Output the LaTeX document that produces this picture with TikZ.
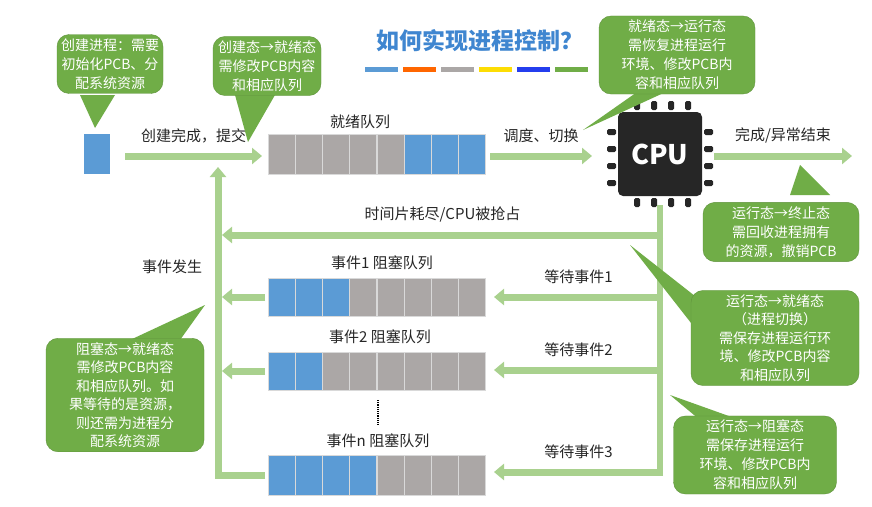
\documentclass[tikz,border=0pt]{standalone}
\usepackage{fontspec}
\setmainfont{Noto Sans CJK SC}
\usetikzlibrary{arrows.meta}
\definecolor{cg}{HTML}{70AD47}
\definecolor{la}{HTML}{A9D18E}
\definecolor{qb}{HTML}{5B9BD5}
\definecolor{qg}{HTML}{ABA7A6}
\definecolor{tb}{HTML}{3F86D0}
\tikzset{
 callout/.style={fill=cg,draw=cg!85!black,rounded corners=12pt,text=white,align=center,font=\fontsize{14}{19}\selectfont,inner sep=4pt},
 flow/.style={draw=la,line width=7pt,-{Triangle[length=10pt,width=16pt]}},
 lbl/.style={font=\fontsize{15}{17}\selectfont,text=black!85},
 cell/.style={draw=white!85!black,minimum width=27pt,minimum height=40pt,inner sep=0pt,line width=0.6pt}
}
\newcommand{\queue}[5]{% name, x, y, nblue, height
 \foreach \i in {1,...,8}{
  \pgfmathsetmacro{\xx}{#2+(\i-0.5)*27.2}
  \ifnum\i>#4 \def\cc{qg}\else\def\cc{qb}\fi
  \node[cell,fill=\cc,minimum height=#5pt] (#1\i) at (\xx,#3) {};}
}
\begin{document}
\begin{tikzpicture}[x=1pt,y=-1pt]
\useasboundingbox (0,0) rectangle (872,506);
\fill[white] (0,0) rectangle (872,506);
% title
\node[text=tb,font=\fontsize{23}{25}\bfseries\selectfont] (title) at (480,41) {如何实现进程控制？};
\foreach \c [count=\k] in {qb,orange!80!red,qg,yellow!80!orange,blue!60!qb,cg}
 \fill[\c] (365+\k*38-38,67) rectangle ++(33,5);
% new process
\node[fill=qb,minimum width=26pt,minimum height=40pt,inner sep=0pt] (newp) at (97,154) {};
% ready queue
\queue{r}{268}{154}{0}{40}
\foreach \i in {6,7,8} \node[cell,fill=qb] at (r\i) {};
\node[lbl] (rl) at (360,122) {就绪队列};
% CPU
\node[fill=black!85,rounded corners=5pt,minimum width=84pt,minimum height=84pt,text=white,font=\fontsize{27}{29}\bfseries\selectfont] (cpu) at (660,154) {CPU};
\foreach \k in {0,1,2,3}{
 \fill[black!85,rounded corners=1.5pt] (634+\k*17,101) rectangle ++(6,9);
 \fill[black!85,rounded corners=1.5pt] (634+\k*17,198) rectangle ++(6,9);
 \fill[black!85,rounded corners=1.5pt] (607,129+\k*17) rectangle ++(9,6);
 \fill[black!85,rounded corners=1.5pt] (704,129+\k*17) rectangle ++(9,6);}
% blocked queues
\queue{a}{268}{297}{3}{38}
\queue{b}{268}{371}{2}{38}
\queue{n}{268}{475}{4}{40}
\node[lbl] (al) at (382,263) {事件1 阻塞队列};
\node[lbl] (bl) at (380,337) {事件2 阻塞队列};
\node[lbl] (nl) at (378,441) {事件n 阻塞队列};
\draw[densely dotted,line width=1.2pt] (378,400) -- (378,426);
% flows
\coordinate (c1) at (125,156);
\coordinate (c2) at (262,156);
\draw[flow] (c1) -- (c2) node[lbl,midway,above=6pt] {创建完成，提交};
\draw[flow] (490,156) -- (592,156) node[lbl,midway,above=6pt] {调度、切换};
\draw[flow] (714,156) -- (852,156) node[lbl,midway,above=6pt] {完成/异常结束};
\coordinate (rv) at (660,205);
\coordinate (rb) at (660,472);
\draw[draw=la,line width=6pt] (rv) -- (rb);
\draw[flow] (663,235) -- (222,235) node[lbl,midway,above=6pt] {时间片耗尽/CPU被抢占};
\draw[flow] (663,297) -- (494,297) node[lbl,pos=0.5,above=6pt] {等待事件1};
\draw[flow] (663,370) -- (494,370) node[lbl,pos=0.5,above=6pt] {等待事件2};
\draw[flow] (663,472) -- (494,472) node[lbl,pos=0.5,above=6pt] {等待事件3};
\draw[flow] (265,297) -- (222,297);
\draw[flow] (265,371) -- (222,371);
\draw[flow] (265,475) -| (218,167);
\node[lbl] (ev) at (172,267) {事件发生};
% callouts
\fill[cg] (80,95) -- (95,128) -- (115,95) -- cycle;
\node[callout,text width=98pt] (c1b) at (110,64) {创建进程：需要\\初始化PCB、分\\配系统资源};
\fill[cg] (235,95) -- (248,142) -- (275,95) -- cycle;
\node[callout,text width=100pt] (c2b) at (267,66) {创建态→就绪态\\需修改PCB内容\\和相应队列};
\fill[cg] (640,90) -- (583,130) -- (670,90) -- cycle;
\node[callout,text width=148pt] (c3b) at (677,55) {就绪态→运行态\\需恢复进程运行\\环境、修改PCB内\\容和相应队列};
\fill[cg] (790,195) -- (800,165) -- (830,195) -- cycle;
\node[callout,text width=148pt] (c4b) at (781,232) {运行态→终止态\\需回收进程拥有\\的资源，撤销PCB};
\fill[cg] (700,300) -- (630,245) -- (720,360) -- cycle;
\node[callout,text width=160pt,font=\fontsize{14}{18.5}\selectfont] (c5b) at (775,338) {运行态→就绪态\\（进程切换）\\需保存进程运行环\\境、修改PCB内容\\和相应队列};
\fill[cg] (700,420) -- (670,395) -- (740,420) -- cycle;
\node[callout,text width=155pt] (c6b) at (755,455) {运行态→阻塞态\\需保存进程运行\\环境、修改PCB内\\容和相应队列};
\fill[cg] (130,340) -- (205,305) -- (180,340) -- cycle;
\node[callout,text width=150pt,font=\fontsize{14}{18.5}\selectfont] (c7b) at (125,395) {阻塞态→就绪态\\需修改PCB内容\\和相应队列。如\\果等待的是资源，\\则还需为进程分\\配系统资源};
\end{tikzpicture}
\end{document}
